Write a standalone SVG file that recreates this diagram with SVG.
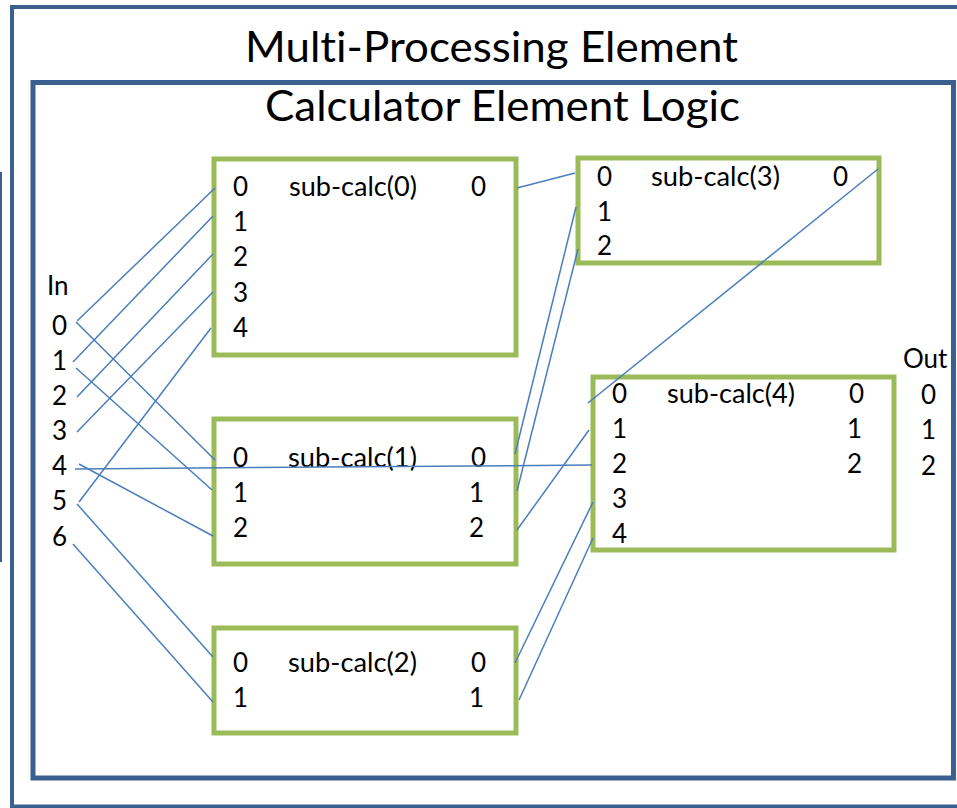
<svg xmlns="http://www.w3.org/2000/svg" width="957" height="808" viewBox="0 0 957 808">
<style>
.frame{fill:none;stroke:#3B6090;}
.box{fill:#ffffff;stroke:#9BBB59;stroke-width:5;}
.t{font-family:Lato,"Open Sans","Liberation Sans",sans-serif;font-size:26px;fill:#000;font-variant-ligatures:none;}
.title{font-family:Lato,"Open Sans","Liberation Sans",sans-serif;font-size:42px;fill:#000;font-variant-ligatures:none;}
.c line{stroke:#4A7EBB;stroke-width:1.5;}
</style>
<rect width="957" height="808" fill="#ffffff"/>
<g id="mpe">
<rect class="frame" x="12" y="7" width="960" height="799.5" stroke-width="4"/>
<text class="title" x="245" y="62" textLength="493" lengthAdjust="spacingAndGlyphs">Multi-Processing Element</text>
</g>
<line x1="1" y1="172" x2="1" y2="562" stroke="#3B6090" stroke-width="2"/>
<g id="cel">
<rect class="frame" x="33" y="82.5" width="920.5" height="695.5" stroke-width="5"/>
<text class="title" x="265" y="121" textLength="475" lengthAdjust="spacingAndGlyphs">Calculator Element Logic</text>
</g>
<g id="in">
<text class="t" x="47" y="295">In</text>
<text class="t" x="52" y="335">0</text>
<text class="t" x="52" y="370">1</text>
<text class="t" x="52" y="405">2</text>
<text class="t" x="52" y="440">3</text>
<text class="t" x="52" y="475">4</text>
<text class="t" x="52" y="510">5</text>
<text class="t" x="52" y="546">6</text>
</g>
<g id="out">
<text class="t" x="903" y="368">Out</text>
<text class="t" x="921" y="404">0</text>
<text class="t" x="921" y="439">1</text>
<text class="t" x="921" y="475">2</text>
</g>
<g id="sub0">
<rect class="box" x="214" y="159" width="302" height="196"/>
<text class="t" x="233" y="196">0</text>
<text class="t" x="233" y="231">1</text>
<text class="t" x="233" y="266">2</text>
<text class="t" x="233" y="302">3</text>
<text class="t" x="233" y="337">4</text>
<text class="t" x="289" y="196" textLength="128" lengthAdjust="spacingAndGlyphs">sub-calc(0)</text>
<text class="t" x="471" y="196">0</text>
</g>
<g id="sub1">
<rect class="box" x="214" y="419" width="302" height="145"/>
<text class="t" x="233" y="467">0</text>
<text class="t" x="233" y="502">1</text>
<text class="t" x="233" y="537">2</text>
<text class="t" x="288" y="467" textLength="129" lengthAdjust="spacingAndGlyphs">sub-calc(1)</text>
<text class="t" x="471" y="467">0</text>
<text class="t" x="469" y="502">1</text>
<text class="t" x="469" y="537">2</text>
</g>
<g id="sub2">
<rect class="box" x="214" y="628" width="302" height="105"/>
<text class="t" x="233" y="672">0</text>
<text class="t" x="233" y="707">1</text>
<text class="t" x="288" y="672" textLength="129" lengthAdjust="spacingAndGlyphs">sub-calc(2)</text>
<text class="t" x="471" y="672">0</text>
<text class="t" x="469" y="707">1</text>
</g>
<g id="sub3">
<rect class="box" x="578" y="158" width="301" height="105"/>
<text class="t" x="597" y="186">0</text>
<text class="t" x="597" y="221">1</text>
<text class="t" x="597" y="255">2</text>
<text class="t" x="651" y="186" textLength="129" lengthAdjust="spacingAndGlyphs">sub-calc(3)</text>
<text class="t" x="833" y="186">0</text>
</g>
<g id="sub4">
<rect class="box" x="593" y="377" width="301" height="173"/>
<text class="t" x="612" y="403">0</text>
<text class="t" x="612" y="438">1</text>
<text class="t" x="612" y="473">2</text>
<text class="t" x="612" y="508">3</text>
<text class="t" x="612" y="543">4</text>
<text class="t" x="667" y="403" textLength="128" lengthAdjust="spacingAndGlyphs">sub-calc(4)</text>
<text class="t" x="849" y="403">0</text>
<text class="t" x="847" y="438">1</text>
<text class="t" x="847" y="473">2</text>
</g>
<g id="connectors" class="c">
<line x1="77" y1="321" x2="215" y2="188"/>
<line x1="76" y1="322" x2="215" y2="460"/>
<line x1="73" y1="362" x2="213" y2="216"/>
<line x1="76" y1="368" x2="212" y2="490"/>
<line x1="77" y1="397" x2="213" y2="254"/>
<line x1="77" y1="432" x2="213" y2="292"/>
<line x1="75" y1="469" x2="592" y2="465"/>
<line x1="79" y1="464" x2="213" y2="536"/>
<line x1="79" y1="502" x2="211" y2="328"/>
<line x1="77" y1="504" x2="213" y2="657"/>
<line x1="73" y1="544" x2="213" y2="702"/>
<line x1="517" y1="188" x2="575" y2="173"/>
<line x1="515" y1="454" x2="576" y2="207"/>
<line x1="517" y1="491" x2="578" y2="249"/>
<line x1="517" y1="530" x2="589" y2="430"/>
<line x1="515" y1="663" x2="593" y2="502"/>
<line x1="519" y1="700" x2="593" y2="538"/>
<line x1="878" y1="169" x2="588" y2="403"/>
</g>
</svg>
